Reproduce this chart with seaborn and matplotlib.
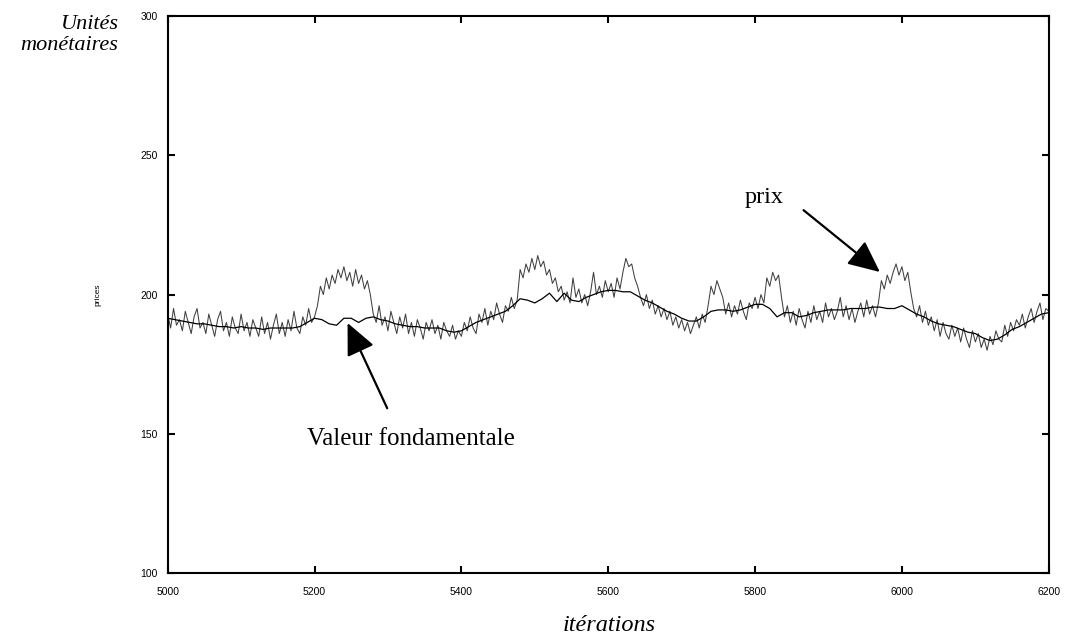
import numpy as np
import pandas as pd
import matplotlib
matplotlib.use("Agg")
import matplotlib.pyplot as plt
import seaborn as sns

# ---- data ----
fund_iter = list(range(5000, 6201, 10))
fundamental = [
    191.5, 191, 190.5, 190, 189.5, 189.5, 189, 188.5, 188.5, 188,
    188.5, 188, 188, 187.5, 188, 188, 188, 188, 188.5, 190,
    191.5, 191, 189.5, 189, 191.5, 191.5, 190, 191.5, 192, 191,
    190.5, 189.5, 189, 188.5, 188.5, 188, 188, 188, 187, 186.5,
    187, 188.5, 190, 191, 192, 193, 194, 196, 198.5, 198,
    197, 198.5, 200.5, 197.5, 200.5, 198, 197.5, 199, 200, 201,
    201.5, 201.5, 201, 201, 199.5, 198, 197, 195.5, 194, 193,
    191.5, 190.5, 190.5, 192, 194, 194.5, 194.5, 194, 194.5, 195.5,
    196.5, 196.5, 195, 192, 193.5, 193.5, 192, 192.5, 193.5, 194,
    194.5, 194.5, 194.5, 195, 195, 195, 195.5, 195.5, 195, 195,
    196, 194.5, 193, 192, 190.5, 189.5, 189, 188.5, 187.5, 186.5,
    186, 184.5, 183.5, 184, 185.5, 187.5, 188.5, 190, 191.5, 193,
    193.5,
]

price_iter = list(range(5000, 6201, 4))
prices = [
    193, 188, 195, 189, 191, 187, 194, 190, 186, 192,
    195, 188, 190, 186, 193, 189, 185, 191, 194, 187,
    190, 185, 192, 188, 186, 193, 187, 190, 185, 191,
    188, 185, 192, 186, 190, 184, 189, 193, 186, 190,
    185, 191, 187, 194, 188, 186, 192, 189, 195, 190,
    192, 196, 203, 200, 206, 202, 207, 204, 209, 206,
    210, 205, 208, 203, 209, 204, 207, 202, 205, 200,
    193, 190, 196, 189, 192, 187, 194, 190, 186, 192,
    188, 193, 186, 190, 185, 191, 188, 184, 190, 187,
    191, 186, 189, 184, 190, 187, 185, 189, 184, 187,
    185, 190, 187, 192, 188, 186, 193, 190, 195, 189,
    194, 191, 197, 193, 190, 196, 194, 199, 195, 198,
    209, 206, 211, 208, 213, 209, 214, 210, 212, 207,
    209, 204, 206, 201, 203, 198, 201, 197, 206, 199,
    202, 197, 200, 196, 201, 208, 200, 203, 199, 205,
    201, 204, 199, 206, 202, 208, 213, 210, 211, 206,
    203, 199, 196, 200, 195, 198, 193, 196, 192, 195,
    191, 194, 189, 192, 188, 191, 187, 190, 186, 189,
    192, 188, 193, 190, 196, 203, 200, 205, 202, 199,
    193, 197, 192, 196, 193, 198, 194, 191, 197, 195,
    199, 195, 200, 197, 206, 203, 208, 205, 207, 199,
    192, 196, 190, 194, 189, 195, 191, 188, 194, 190,
    196, 191, 194, 190, 197, 192, 195, 191, 194, 199,
    192, 196, 191, 195, 190, 194, 197, 192, 198, 193,
    196, 192, 197, 205, 202, 207, 204, 208, 211, 207,
    210, 205, 208, 201, 195, 192, 196, 190, 194, 189,
    192, 187, 191, 185, 190, 186, 184, 189, 185, 188,
    183, 188, 184, 181, 187, 183, 186, 181, 184, 180,
    185, 182, 187, 184, 183, 189, 185, 190, 187, 191,
    189, 193, 188, 192, 195, 190, 194, 197, 191, 195,
    194,
]

x_ticks = [5000, 5200, 5400, 5600, 5800, 6000, 6200]
y_ticks = [100, 150, 200, 250, 300]

df_price = pd.DataFrame({"iter": price_iter, "value": prices})
df_fund = pd.DataFrame({"iter": fund_iter, "value": fundamental})

# ---- style ----
sns.set_style("ticks")
plt.rcParams["font.family"] = ["Liberation Sans", "DejaVu Sans"]
for k in ["text.color", "axes.labelcolor", "xtick.color", "ytick.color"]:
    plt.rcParams[k] = "black"

fig = plt.figure(figsize=(10.68, 6.39), dpi=100)
ax = fig.add_axes([0.157, 0.103, 0.825, 0.872])

sns.lineplot(data=df_price, x="iter", y="value", ax=ax, color="#404040",
             linewidth=0.75, estimator=None)
sns.lineplot(data=df_fund, x="iter", y="value", ax=ax, color="black",
             linewidth=0.9, estimator=None)

ax.set_xlim(5000, 6200)
ax.set_ylim(100, 300)
ax.set_xticks(x_ticks)
ax.set_yticks(y_ticks)
ax.tick_params(direction="in", length=5, width=1.5, labelsize=7.5,
               top=True, right=True, pad=10)
ax.tick_params(axis="y", pad=7)
for s in ax.spines.values():
    s.set_linewidth(1.5)
    s.set_color("black")

ax.set_xlabel("")
ax.set_ylabel("prices", fontsize=6, labelpad=28)

serif = ["Liberation Serif", "DejaVu Serif"]
fig.text(0.111, 0.977, "Unités\nmonétaires", ha="right", va="top",
         fontsize=16, style="italic", family=serif, linespacing=1.2)
fig.text(0.57, 0.021, "itérations", ha="center", va="center",
         fontsize=17.5, style="italic", family=serif)

arrow = dict(arrowstyle="-|>,head_length=0.65,head_width=0.3",
             mutation_scale=30, color="black", lw=1.6,
             shrinkA=0, shrinkB=0)
ax.annotate("", xy=(5245, 189.8), xytext=(5299, 159.2), arrowprops=arrow)
ax.text(5190, 148.0, "Valeur fondamentale", fontsize=18, family=serif,
        ha="left", va="center")
ax.annotate("", xy=(5970, 208.1), xytext=(5866, 230.3), arrowprops=arrow)
ax.text(5786, 235.0, "prix", fontsize=17.5, family=serif,
        ha="left", va="center")

fig.savefig("out.png", dpi=100)
